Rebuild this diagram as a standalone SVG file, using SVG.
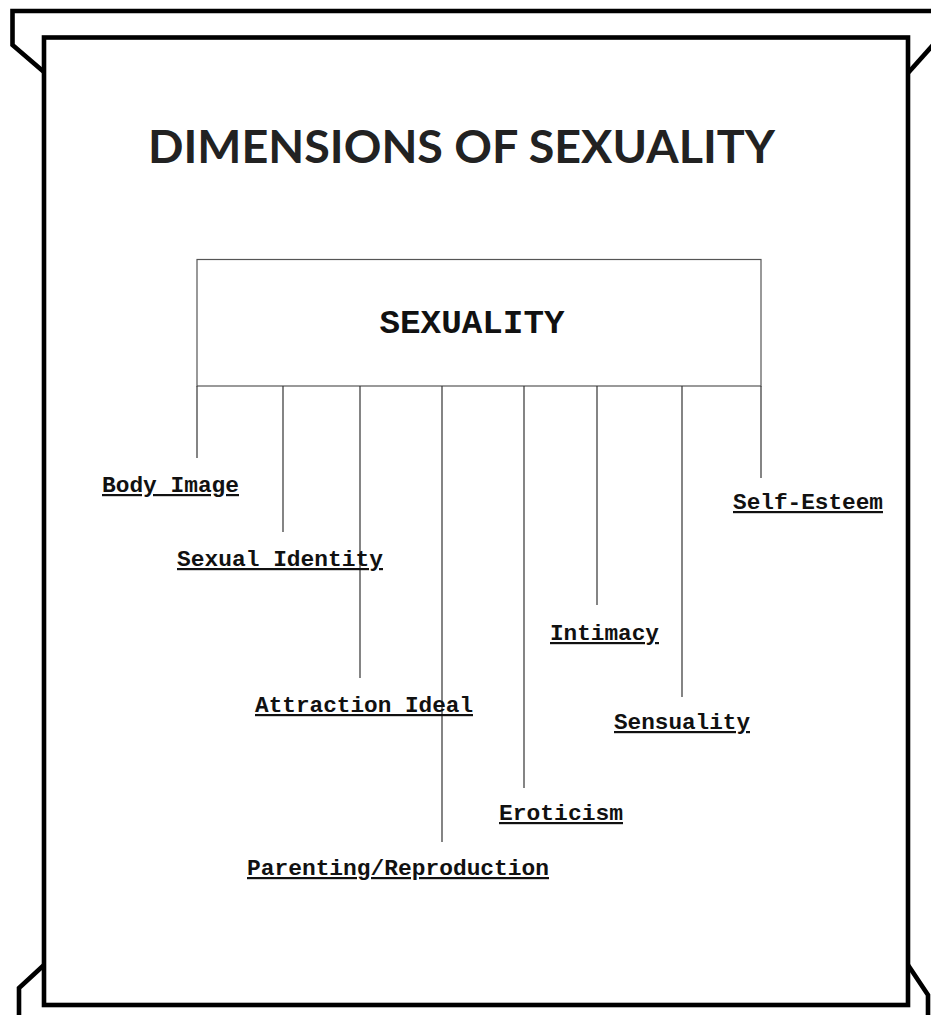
<svg xmlns="http://www.w3.org/2000/svg" width="931" height="1015" viewBox="0 0 931 1015">
<style>
.frame{fill:none;stroke:#000;stroke-width:4.6;stroke-linejoin:miter}
.conn{stroke:#333;stroke-width:1.2;fill:none}
.lbl{font-family:"Liberation Mono","Courier New",monospace;font-weight:bold;font-size:22px;fill:#111;text-decoration:underline}
.title{font-family:"Lato","Open Sans","Liberation Sans",sans-serif;font-weight:bold;font-size:46px;fill:#222}
</style>
<rect width="931" height="1015" fill="#fff"/>
<g id="frame">
<rect class="frame" x="44" y="37.5" width="864" height="967.5"/>
<polyline class="frame" points="44,72 12.5,45 12.5,11 935,11"/>
<polyline class="frame" points="908,73 933,45"/>
<polyline class="frame" points="44,965 19,988 19,1020"/>
<polyline class="frame" points="908,965 928,995 928,1020"/>
</g>
<g id="title">
<text class="title" x="148" y="163" textLength="627" lengthAdjust="spacingAndGlyphs">DIMENSIONS OF SEXUALITY</text>
</g>
<g id="sexuality">
<rect x="197" y="259.5" width="564" height="126.5" fill="none" stroke="#555" stroke-width="1.2"/>
<text x="472" y="333" text-anchor="middle" font-family="'Liberation Mono','Courier New',monospace" font-weight="bold" font-size="33" fill="#111" textLength="185" lengthAdjust="spacingAndGlyphs">SEXUALITY</text>
</g>
<g id="connectors">
<line class="conn" x1="197" y1="386" x2="197" y2="458"/>
<line class="conn" x1="283" y1="386" x2="283" y2="532"/>
<line class="conn" x1="360" y1="386" x2="360" y2="678"/>
<line class="conn" x1="442" y1="386" x2="442" y2="842"/>
<line class="conn" x1="524" y1="386" x2="524" y2="788"/>
<line class="conn" x1="597" y1="386" x2="597" y2="605"/>
<line class="conn" x1="682" y1="386" x2="682" y2="697"/>
<line class="conn" x1="761" y1="386" x2="761" y2="478"/>
</g>
<g id="body-image"><text class="lbl" x="102" y="492" textLength="137" lengthAdjust="spacingAndGlyphs">Body Image</text></g>
<g id="sexual-identity"><text class="lbl" x="177" y="566" textLength="206" lengthAdjust="spacingAndGlyphs">Sexual Identity</text></g>
<g id="attraction-ideal"><text class="lbl" x="255" y="712" textLength="218" lengthAdjust="spacingAndGlyphs">Attraction Ideal</text></g>
<g id="parenting"><text class="lbl" x="247" y="875" textLength="302" lengthAdjust="spacingAndGlyphs">Parenting/Reproduction</text></g>
<g id="eroticism"><text class="lbl" x="499" y="820" textLength="124" lengthAdjust="spacingAndGlyphs">Eroticism</text></g>
<g id="intimacy"><text class="lbl" x="550" y="640" textLength="109" lengthAdjust="spacingAndGlyphs">Intimacy</text></g>
<g id="sensuality"><text class="lbl" x="614" y="729" textLength="136" lengthAdjust="spacingAndGlyphs">Sensuality</text></g>
<g id="self-esteem"><text class="lbl" x="733" y="509" textLength="150" lengthAdjust="spacingAndGlyphs">Self-Esteem</text></g>
</svg>
